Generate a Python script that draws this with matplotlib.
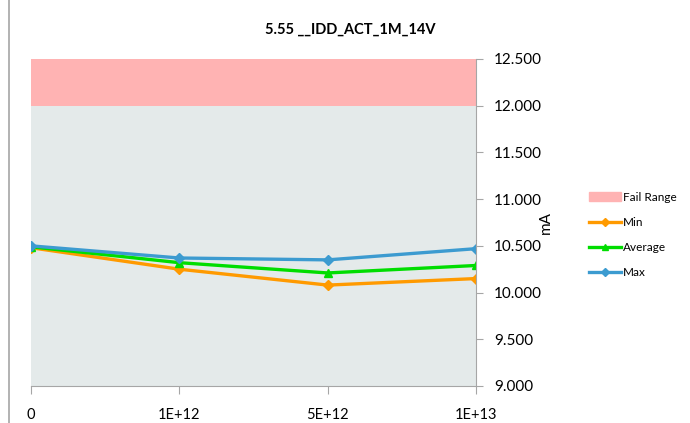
import matplotlib.pyplot as plt
import matplotlib.lines as mlines
import matplotlib.patches as mpatches
import numpy as np

categories = ["0", "1E+12", "5E+12", "1E+13"]
min_vals = [10.48, 10.25, 10.08, 10.15]
avg_vals = [10.49, 10.32, 10.21, 10.29]
max_vals = [10.50, 10.37, 10.35, 10.47]
pass_top = [12.0, 12.0, 12.0, 12.0]
fail_top = [12.5, 12.5, 12.5, 12.5]
y_ticks = [9.0, 9.5, 10.0, 10.5, 11.0, 11.5, 12.0, 12.5]

plt.rcParams['font.family'] = ['Lato', 'DejaVu Sans']

fig = plt.figure(figsize=(6.9, 4.23), dpi=100)
ax = fig.add_axes([31 / 690, 37 / 423, 445 / 690, 327 / 423])

x = np.arange(len(categories))

# background bands
ax.fill_between(x, 9.0, pass_top, color="#E4EAEA", lw=0)
ax.fill_between(x, pass_top, fail_top, color="#FFB3B3", lw=0)

ax.plot(x, min_vals, color="#FF9A00", lw=2.4, marker="D", ms=5, label="Min")
ax.plot(x, avg_vals, color="#00DD00", lw=2.4, marker="^", ms=6, label="Average")
ax.plot(x, max_vals, color="#3C9BD0", lw=2.4, marker="D", ms=5, label="Max")

ax.set_xlim(0, len(categories) - 1)
ax.set_ylim(9.0, 12.5)
ax.set_xticks(x)
ax.set_xticklabels(categories, fontsize=10.5)
ax.set_yticks(y_ticks)
ax.set_yticklabels([f"{v:.3f}" for v in y_ticks], fontsize=11)
ax.yaxis.tick_right()
ax.set_ylabel("mA", fontsize=11)
ax.yaxis.set_label_coords(1.173, 0.5)

for side in ["top", "left"]:
    ax.spines[side].set_visible(False)
ax.spines["bottom"].set_color("#A6A6A6")
ax.spines["right"].set_color("#A6A6A6")
ax.tick_params(axis="x", direction="out", length=6, color="#A6A6A6", pad=10)
ax.tick_params(axis="y", direction="out", length=5, color="#A6A6A6", pad=8)

fig.text(350 / 690, 1 - 30 / 423, "5.55 __IDD_ACT_1M_14V", ha="center", va="center",
         fontsize=10.5, fontweight="bold")

# left frame border
fig.add_artist(mlines.Line2D([9 / 690, 9 / 690], [0, 1], color="#A6A6A6", lw=1.2))

handles = [
    mpatches.Patch(color="#FFB3B3", label="Fail Range"),
    mlines.Line2D([], [], color="#FF9A00", lw=2.4, marker="D", ms=4, label="Min"),
    mlines.Line2D([], [], color="#00DD00", lw=2.4, marker="^", ms=5, label="Average"),
    mlines.Line2D([], [], color="#3C9BD0", lw=2.4, marker="D", ms=4, label="Max"),
]
fig.legend(handles=handles, loc="upper left", bbox_to_anchor=(578 / 690, 1 - 181 / 423),
           frameon=False, fontsize=8.5, labelspacing=1.2, handlelength=2.7, handletextpad=0.2)

fig.savefig("out.png", dpi=100)
